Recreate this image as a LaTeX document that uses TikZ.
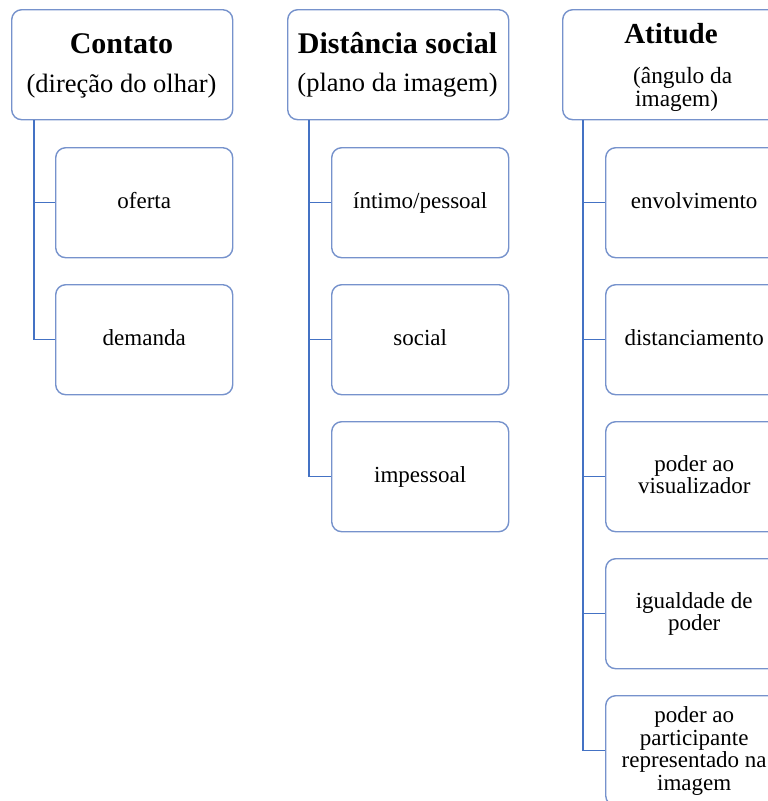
\documentclass[tikz,border=0pt]{standalone}
\usepackage{fontspec}
\setmainfont{Liberation Serif}
\definecolor{boxblue}{RGB}{118,146,204}
\definecolor{linkblue}{RGB}{68,114,196}
\newcommand{\lstr}{\rule[-5.5pt]{0pt}{22.5pt}}
\begin{document}
\begin{tikzpicture}[x=1pt,y=-1pt,
  box/.style={draw=boxblue, line width=1.4pt, rounded corners=10pt, fill=white,
    minimum width=177pt, minimum height=110pt, anchor=north west, inner sep=0pt,
    align=center, font=\fontsize{23}{22.5}\selectfont},
  headbox/.style={box, minimum width=221pt},
  link/.style={draw=linkblue, line width=1.3pt},
  headtitle/.style={inner sep=0pt, anchor=base, font=\fontsize{30}{30}\selectfont\bfseries},
  headsub/.style={inner sep=0pt, anchor=base, font=\fontsize{26.5}{26.5}\selectfont}]
\useasboundingbox (0,0) rectangle (768,801);
\clip (0,0) rectangle (768,801);

% headers
\node[headbox] (h1) at (11,9) {};
\node[headbox] (h2) at (287,9) {};
\node[headbox] (h3) at (562,9) {};

\node[headtitle] (h1a) at (121.5,53) {Contato};
\node[headsub] (h1b) at (121.5,92) {(direção do olhar)};
\node[headtitle] (h2a) at (397.5,53) {Distância social};
\node[headsub] (h2b) at (397.5,91.5) {(plano da imagem)};
\node[headtitle, font=\fontsize{29}{29}\selectfont\bfseries] (h3a) at (671,43) {Atitude};
\node[inner sep=0pt, anchor=base west, font=\fontsize{23.3}{23.3}\selectfont] (h3b) at (633,83) {(ângulo da};
\node[inner sep=0pt, anchor=base west, font=\fontsize{23.3}{23.3}\selectfont] (h3c) at (635,106) {imagem)};

% children
\node[box] (c11) at (55,147) {\lstr oferta};
\node[box] (c12) at (55,284) {\lstr demanda};

\node[box] (c21) at (331,147) {\lstr íntimo/pessoal};
\node[box] (c22) at (331,284) {\lstr social};
\node[box] (c23) at (331,421) {\lstr impessoal};

\node[box] (c31) at (605,147) {\lstr envolvimento};
\node[box] (c32) at (605,284) {\lstr distanciamento};
\node[box] (c33) at (605,421) {\lstr poder ao\\\lstr visualizador};
\node[box] (c34) at (605,558) {\lstr igualdade de\\\lstr poder};
\node[box] (c35) at (605,695) {\lstr poder ao\\\lstr participante\\\lstr representado na\\\lstr imagem};

% connectors
\foreach \c in {c11,c12}
  \draw[link] ([xshift=23pt]h1.south west) |- (\c.west);
\foreach \c in {c21,c22,c23}
  \draw[link] ([xshift=22pt]h2.south west) |- (\c.west);
\foreach \c in {c31,c32,c33,c34,c35}
  \draw[link] ([xshift=21pt]h3.south west) |- (\c.west);
\end{tikzpicture}
\end{document}
